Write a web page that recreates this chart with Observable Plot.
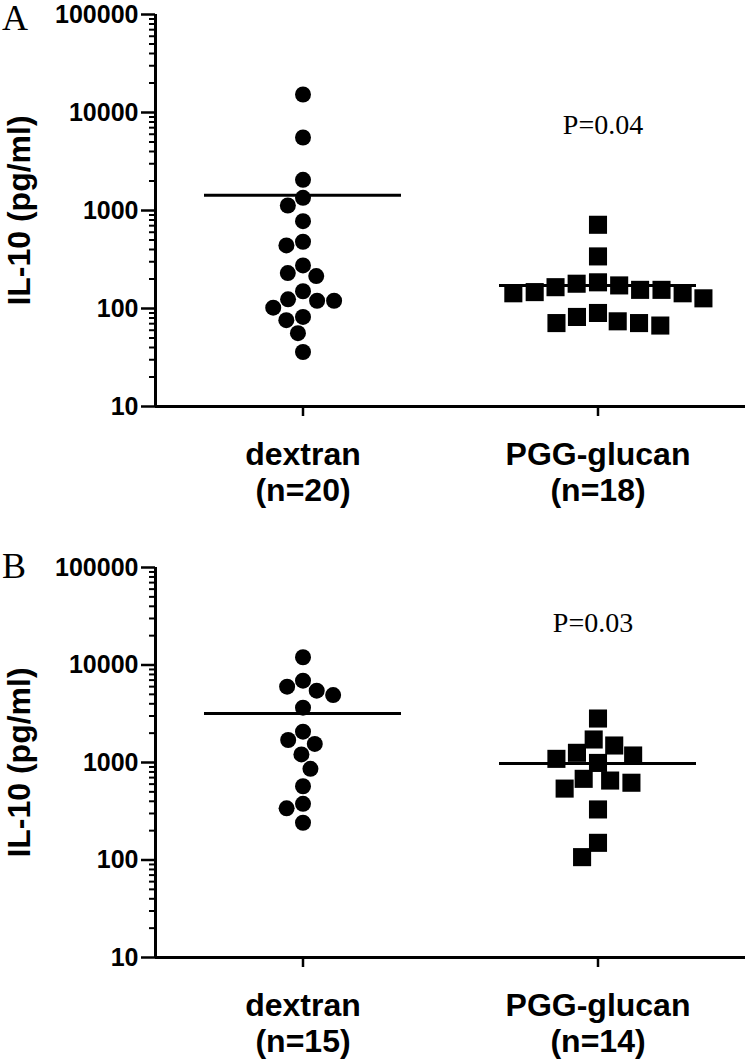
<!DOCTYPE html>
<html>
<head>
<meta charset="utf-8">
<script src="https://cdn.jsdelivr.net/npm/d3@7"></script>
<script src="https://cdn.jsdelivr.net/npm/@observablehq/plot@0.6"></script>
<style>
  html, body { margin: 0; padding: 0; background: #fff; }
  #wrap { position: relative; width: 750px; height: 1064px; background: #fff; }
  .panel { position: absolute; left: 0; }
  .plabel { position: absolute; left: 2px; font-family: "Liberation Serif", "Times New Roman", serif; font-size: 36px; line-height: 1; color: #000; }
</style>
</head>
<body>
<div id="wrap">
  <div id="panelA" class="panel" style="top:0"></div>
  <div id="panelB" class="panel" style="top:530px"></div>
  <div class="plabel" style="top:0px">A</div>
  <div class="plabel" style="top:548px">B</div>
</div>
<script>
// ---- data ----
const groups = ["dextran", "PGG-glucan"];
const groupLabelsA = ["dextran\n(n=20)", "PGG-glucan\n(n=18)"];
const groupLabelsB = ["dextran\n(n=15)", "PGG-glucan\n(n=14)"];
const yTicks = [10, 100, 1000, 10000, 100000];
const yTitle = "IL-10 (pg/ml)";

const dextranA = [15270, 5560, 2055, 1348, 1125, 778, 480, 440, 275, 230, 214, 150, 124, 120, 120, 102, 82, 76, 56, 36];
const pggA = [715, 340, 185, 179, 172, 165, 155, 155, 147, 143, 143, 127, 90, 82, 74, 71, 71, 67];
const dextranB = [12000, 6910, 5990, 5450, 4920, 3650, 2070, 1700, 1550, 1210, 861, 571, 377, 339, 241];
const pggB = [2825, 1722, 1494, 1257, 1180, 1090, 990, 680, 653, 620, 540, 330, 150, 107];

const pTextA = [{group: "PGG-glucan", text: "P=0.04", value: 7500}];
const pTextB = [{group: "PGG-glucan", text: "P=0.03", value: 27000}];

// minor log ticks (2..9 within each decade)
const minorTicks = yTicks.slice(0, -1).flatMap(d => [2, 3, 4, 5, 6, 7, 8, 9].map(k => k * d));

function panel({dex, pgg, labels, ptext, pdx, height, marginTop, marginBottom}) {
  const dexData = dex.map(v => ({group: groups[0], value: v}));
  const pggData = pgg.map(v => ({group: groups[1], value: v}));
  const all = dexData.concat(pggData);
  const labelOf = new Map(groups.map((g, i) => [g, labels[i]]));
  return Plot.plot({
    width: 750,
    height,
    marginTop,
    marginBottom,
    marginLeft: 155,
    marginRight: 5,
    style: {fontFamily: "'Liberation Sans', Arial, sans-serif", color: "#000", background: "#fff", overflow: "visible"},
    fx: {domain: groups, padding: 0},
    x: {domain: [0, 1], axis: null},
    y: {type: "log", domain: [10, 100000]},
    marks: [
      Plot.axisY(minorTicks, {anchor: "left", tickSize: 6, strokeWidth: 2, tickFormat: () => "",
        label: yTitle, labelAnchor: "center", labelArrow: "none", labelOffset: 148,
        fontSize: 32, fontWeight: "bold"}),
      Plot.axisY(yTicks, {anchor: "left", tickSize: 14, tickPadding: 3, strokeWidth: 2.5,
        tickFormat: d => String(d), fontSize: 25, fontWeight: "bold", label: null}),
      Plot.axisFx({anchor: "bottom", tickSize: 10, tickPadding: 23, strokeWidth: 2.5,
        tickFormat: g => labelOf.get(g), fontSize: 32, fontWeight: "bold", lineHeight: 1.12, label: null}),
      Plot.ruleY([10], {strokeWidth: 3}),
      Plot.ruleX([groups[0]], {fx: d => d, x: () => 0, strokeWidth: 3}),
      Plot.tickY(all, Plot.groupZ({y: "mean"}, {fx: "group", y: "value", strokeWidth: 3, insetLeft: 49, insetRight: 49})),
      Plot.dot(dexData, Plot.dodgeX("middle", {fx: "group", y: "value", r: 8, padding: 7, fill: "#000", symbol: "circle"})),
      Plot.dot(pggData, Plot.dodgeX("middle", {fx: "group", y: "value", r: 10.2, padding: 3, fill: "#000", symbol: "square"})),
      Plot.text(ptext, {fx: "group", y: "value", text: "text", dx: pdx,
        fontFamily: "'Liberation Serif', 'Times New Roman', serif", fontSize: 28, fill: "#000"})
    ]
  });
}

document.getElementById("panelA").append(panel({
  dex: dextranA, pgg: pggA, labels: groupLabelsA, ptext: pTextA, pdx: 5,
  height: 530, marginTop: 14, marginBottom: 124
}));
document.getElementById("panelB").append(panel({
  dex: dextranB, pgg: pggB, labels: groupLabelsB, ptext: pTextB, pdx: -5,
  height: 534, marginTop: 37, marginBottom: 107
}));
</script>
</body>
</html>
